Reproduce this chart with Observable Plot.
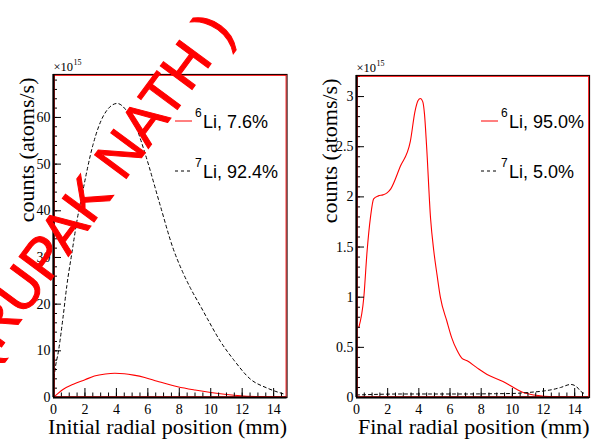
<!DOCTYPE html>
<html>
<head>
<meta charset="utf-8">
<script src="https://cdn.jsdelivr.net/npm/d3@7"></script>
<script src="https://cdn.jsdelivr.net/npm/@observablehq/plot@0.6"></script>
<style>
  html, body { margin: 0; padding: 0; background: white; }
  #wrap { display: flex; width: 596px; height: 439px; overflow: hidden; }
</style>
</head>
<body>
<div id="wrap"></div>
<script>
// ---------- data (values in units of 1e15 atoms/s) ----------
// Left panel: initial radial position
const xLi7Init = [0, 0.1, 0.32, 0.6, 0.85, 1.17, 1.5, 1.85, 2.5, 3.2, 4.05, 4.7, 5.3, 5.85, 6.8, 7.6, 8.2, 8.7, 9.36, 9.8, 10.6, 11.5, 12.5, 13.6, 14.7];
const yLi7Init = [3, 6, 10, 17, 24, 31, 38, 44, 54, 60.5, 63, 61.2, 57.5, 52, 41, 32, 27, 23.5, 19.5, 16.8, 12.1, 7.9, 4, 2, 0.7];
const xLi6Init = [0, 0.1, 0.6, 1.3, 2, 2.6, 3.3, 3.9, 4.5, 5.1, 5.8, 6.6, 7.9, 9, 10, 11, 11.9, 13, 14, 14.8];
const yLi6Init = [0.1, 0.36, 1.7, 2.9, 3.8, 4.6, 5.05, 5.2, 5.1, 4.8, 4.3, 3.5, 2.3, 1.6, 1.07, 0.65, 0.36, 0.18, 0.08, 0.04];
// Right panel: final radial position
const xLi6Final = [0.15, 0.47, 0.68, 0.9, 1.1, 1.4, 1.7, 1.96, 2.2, 2.8, 3.45, 3.75, 3.95, 4.1, 4.25, 4.36, 4.5, 4.75, 4.96, 5.17, 5.38, 5.8, 6.1, 6.45, 6.77, 7.1, 7.7, 8.38, 9.4, 10.3, 10.8, 11.4, 12.7, 14.4, 14.8];
const yLi6Final = [0.7, 1.0, 1.46, 1.8, 1.98, 2.01, 2.02, 2.04, 2.08, 2.3, 2.55, 2.85, 2.96, 2.98, 2.95, 2.83, 2.5, 1.79, 1.46, 1.22, 1.0, 0.76, 0.6, 0.47, 0.39, 0.366, 0.3, 0.23, 0.16, 0.08, 0.045, 0.025, 0.006, 0.003, 0.003];
const xLi7Final = [0, 1, 3, 5, 7, 9, 10, 11, 12, 12.6, 13.1, 13.75, 14.1, 14.4, 14.7];
const yLi7Final = [0.025, 0.03, 0.035, 0.035, 0.035, 0.038, 0.04, 0.05, 0.065, 0.08, 0.1, 0.13, 0.11, 0.06, 0.035];

// ---------- ticks & labels ----------
const xMajor = [0, 2, 4, 6, 8, 10, 12, 14];
const xMinor = d3.range(0, 14.51, 0.5);
const yMajorInit = [0, 10, 20, 30, 40, 50, 60];
const yMinorInit = d3.range(0, 68.1, 2);
const yMajorFinal = [0, 0.5, 1, 1.5, 2, 2.5, 3];
const yMinorFinal = d3.range(0, 3.201, 0.1);
const yTitle = "counts (atoms/s)";
const xTitleInit = "Initial radial position (mm)";
const xTitleFinal = "Final radial position (mm)";
const legendInit = [{iso: "6", text: "Li, 7.6%"}, {iso: "7", text: "Li, 92.4%"}];
const legendFinal = [{iso: "6", text: "Li, 95.0%"}, {iso: "7", text: "Li, 5.0%"}];
const watermark = "(RUPAK NATH )";

const zip = (xs, ys) => xs.map((x, i) => ({x, y: ys[i]}));
const SERIF = "'Liberation Serif', 'Times New Roman', serif";
const SANS = "'Liberation Sans', Arial, sans-serif";

function panel(o) {
  const H = 439;
  const plotW = o.W - o.ml - o.mr;
  const plotH = H - o.mt - o.mb;
  const svg = Plot.plot({
    width: o.W, height: H,
    marginLeft: o.ml, marginRight: o.mr, marginTop: o.mt, marginBottom: o.mb,
    x: {domain: o.xDomain, label: null},
    y: {domain: o.yDomain, label: null},
    style: {fontFamily: SERIF, fontSize: "14px", color: "black", background: "white", overflow: "visible"},
    marks: [
      Plot.line(zip(o.x6, o.y6), {x: "x", y: "y", stroke: "red", strokeWidth: 1.1, curve: "monotone-x"}),
      Plot.line(zip(o.x7, o.y7), {x: "x", y: "y", stroke: "black", strokeWidth: 1, strokeDasharray: "3,3", curve: "monotone-x"}),
      // inward ticks
      Plot.ruleX(xMinor, {x: d => d, insetTop: plotH - 4.5, stroke: "black", strokeWidth: 1}),
      Plot.ruleX(xMajor, {x: d => d, insetTop: plotH - 9, stroke: "black", strokeWidth: 1}),
      Plot.ruleY(o.yMinor, {y: d => d, insetRight: plotW - 4, stroke: "black", strokeWidth: 1}),
      Plot.ruleY(o.yMajor, {y: d => d, insetRight: plotW - 8, stroke: "black", strokeWidth: 1}),
      // frame
      Plot.frame({stroke: "#200", strokeWidth: 1.2}),
      Plot.frame({stroke: "red", strokeWidth: 0.8, inset: 1}),
      Plot.ruleX([o.xDomain[0]], {stroke: "black", strokeWidth: 2.2}),
      Plot.ruleY([o.yDomain[0]], {stroke: "black", strokeWidth: 2.2}),
      Plot.axisX({ticks: xMajor, tickSize: 0, tickPadding: 7, tickFormat: d => String(d), fontSize: 14}),
      Plot.axisY({ticks: o.yMajor, tickSize: 0, tickPadding: 3, tickFormat: d => String(d), fontSize: 14}),
      // titles
      Plot.text([o.xTitle], {text: d => d, frameAnchor: "bottom-right", textAnchor: "end", lineAnchor: "bottom", dy: 36, fontSize: 22}),
      Plot.text([yTitle], {text: d => d, frameAnchor: "top-left", textAnchor: "end", lineAnchor: "middle", rotate: -90, dx: o.yTitleDx, dy: 3, fontSize: 22}),
      Plot.text(["×10"], {text: d => d, frameAnchor: "top-left", textAnchor: "start", lineAnchor: "bottom", dy: -4, fontSize: 12.5}),
      Plot.text(["15"], {text: d => d, frameAnchor: "top-left", textAnchor: "start", lineAnchor: "bottom", dx: 20, dy: -10, fontSize: 8})
    ]
  });
  // legend (pixel layout, relative to this panel's svg)
  const g = d3.select(svg).append("g").attr("text-anchor", "start");
  o.legend.forEach((L, i) => {
    const yRow = o.legY + i * 50;
    g.append("line").attr("x1", o.legX).attr("x2", o.legX + 17).attr("y1", yRow).attr("y2", yRow)
      .attr("stroke", i === 0 ? "red" : "black").attr("stroke-width", 1)
      .attr("stroke-dasharray", i === 0 ? null : "3,3");
    g.append("text").attr("x", o.legX + 20).attr("y", yRow - 4).attr("text-anchor", "start")
      .attr("font-family", SANS).attr("font-size", 12).attr("fill", "black").text(L.iso);
    g.append("text").attr("x", o.legX + 28).attr("y", yRow + 7).attr("text-anchor", "start")
      .attr("font-family", SANS).attr("font-size", 18).attr("fill", "black").text(L.text);
  });
  return svg;
}

const left = panel({
  W: 298, ml: 53, mr: 11.5, mt: 74, mb: 42,
  xDomain: [0, 14.85], yDomain: [0, 69.2],
  x6: xLi6Init, y6: yLi6Init, x7: xLi7Init, y7: yLi7Init,
  yMajor: yMajorInit, yMinor: yMinorInit,
  xTitle: xTitleInit, yTitleDx: -27,
  legend: legendInit, legX: 175, legY: 121
});
const right = panel({
  W: 298, ml: 58, mr: 7, mt: 75, mb: 42,
  xDomain: [0, 14.95], yDomain: [0, 3.21],
  x6: xLi6Final, y6: yLi6Final, x7: xLi7Final, y7: yLi7Final,
  yMajor: yMajorFinal, yMinor: yMinorFinal,
  xTitle: xTitleFinal, yTitleDx: -27,
  legend: legendFinal, legX: 183, legY: 121
});

// watermark on the left panel
d3.select(left).append("text")
  .attr("transform", "translate(95,187) rotate(-53.5)")
  .attr("text-anchor", "middle").attr("dominant-baseline", "central")
  .attr("font-family", SANS).attr("font-size", 57.5).attr("fill", "red")
  .attr("stroke", "red").attr("stroke-width", 1)
  .text(watermark);

document.getElementById("wrap").append(left, right);
</script>
</body>
</html>
